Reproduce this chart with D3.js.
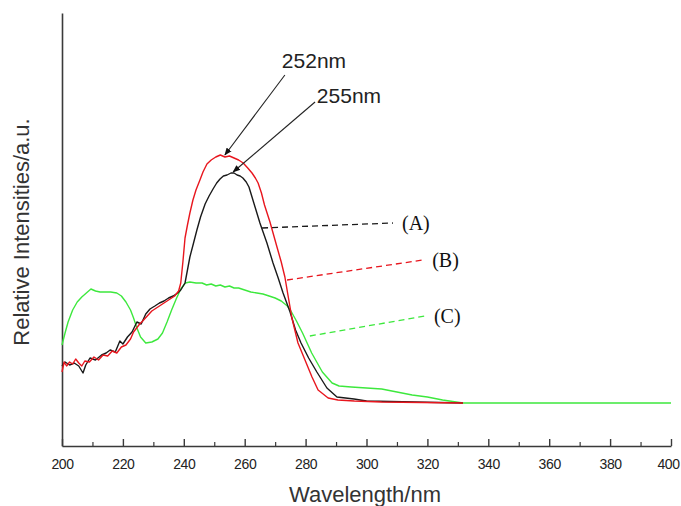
<!DOCTYPE html>
<html><head><meta charset="utf-8">
<script src="https://cdn.jsdelivr.net/npm/d3@7"></script>
<style>body{margin:0;background:#fff}svg{display:block}</style>
</head><body><svg id="c" width="681" height="506"></svg>
<script>
// ---- data (wavelength nm, relative intensity a.u.) ----
const xTicks = [200,220,240,260,280,300,320,340,360,380,400];
const xMinorTicks = [210,230,250,270,290,310,330,350,370,390];

const nmC = [200,201,202,203.5,205,206.5,208,209.5,211,212.5,214,216,218,219.5,221,222.5,223.5,224.6,225.8,227.5,229.5,231.5,233,234.5,236,237.5,239,240.5,242,244,246,247.5,249,250.5,252,253.5,255,256.5,258,260,262,264,266,268,270,272,274,275,277,279,282,285.5,288.7,291,295,300,305,310,315,320,325,331.7,340,400];
const valC = [101,113,124,136,144,149,153,157,155,154,154,154,153,150,144,136,128,118,109,103,104,107,113,124,136,147,157,163,164,163,163,161,162,160,161,159,160,158,158,156,154,153,152,150,148,145,140,136,125,113,93,74,63,60,59,58,57,54,51,49,46,43,43,43];

const nmB = [200,200.7,201.5,202.5,203.5,204.5,205.5,206.5,207.5,209,210.5,212,213.5,215,216.5,218,219.5,221,222.5,223.5,224.5,225.5,226.5,228,229.5,231,232.5,234,235.5,237,238.3,239,239.7,240.4,241.2,242,243,244,245.3,246.3,247.6,249,250.5,252,253.5,255,256.5,258,259.5,261,262.4,263.5,264.4,265.5,266.5,268.3,270.6,272,273.2,274.2,275.5,277.5,279.8,282.1,284.1,287.4,290.6,296,305,331.7];
const valB = [74,84,80,84,82,87,83,80,85,84,89,86,91,90,95,93,99,101,107,114,118,122,125,130,135,138,141,144,147,150,155,163,184,208,221,233,246,256,266,274,282,286,289,291,289,290,288,286,283,278,273,268,263,253,241,224,199,184,169,151,128,103,86,69,56,48,46,45,44,43];

const nmA = [200,201,202.5,204,205.5,206.9,207.8,209.2,211,213,214.5,215.8,217.5,219,220,221.5,223,224.6,226,227.5,228.9,230.5,232,233.5,235,236.5,238,239,240.4,241.2,242,243.2,244.3,245.5,247,248.3,249.6,250.8,251.9,253,254.2,255.5,256.5,257.5,258.5,259.4,260.5,261.4,262.4,263.5,265,267.3,269.3,271,272.6,274.9,276.7,278.5,281,283.7,287,290.3,295.9,300,331.7];
const valA = [80,84,81,83,80,73,81,88,86,91,93,96,94,105,102,109,114,124,122,132,137,140,143,145,148,150,153,156,163,176,189,203,216,229,242,250,257,263,267,270,271,273,273,271,270,268,264,259,249,238,223,203,183,168,153,134,116,103,88,74,58,49,47,45,43];

const seriesNames = ["(A)","(B)","(C)"];
const seriesColors = ["#1a1a1a","#e8161e","#3de83d"];
// leader lines for labels: [nm0,val0,nm1,val1]
const leaders = [[265.7,218,308.7,223],[273.9,166,318.6,186],[281.4,110,319.2,130]];
// peak annotations: label, text position (nm,val), arrow start (nm,val), tip (nm,val)
const peakLabels = ["252nm","255nm"];
const peakText = [[272.2,378],[283.7,343]];
const peakStart = [[273.2,371],[283.1,344]];
const peakTip = [[253.5,291],[256.2,274]];

// ---- chart ----
const svg = d3.select("#c");
const x = d3.scaleLinear().domain([200,400]).range([62,671]);
const y = d3.scaleLinear().domain([0,433]).range([446,13]);
const axisColor = "#3a3a3a";

// x axis
const gx = svg.append("g").attr("transform","translate(0,446)")
  .call(d3.axisBottom(x).tickValues(xTicks).tickSizeInner(-7).tickSizeOuter(0).tickPadding(13).tickFormat(d3.format("d")));
gx.select(".domain").attr("stroke",axisColor).attr("stroke-width",1.6);
gx.selectAll(".tick line").attr("stroke",axisColor).attr("stroke-width",1.4);
gx.selectAll(".tick text").attr("font-family","Arial, 'Liberation Sans', sans-serif").attr("font-size",14)
  .attr("letter-spacing","-0.4px").attr("fill","#222")
  .filter(d=>d===400).attr("dx",-3);
const gm = svg.append("g").attr("transform","translate(0,446)")
  .call(d3.axisBottom(x).tickValues(xMinorTicks).tickSizeInner(-4).tickSizeOuter(0).tickFormat(""));
gm.select(".domain").remove();
gm.selectAll(".tick line").attr("stroke",axisColor).attr("stroke-width",1.2);

// y axis (no ticks)
const gy = svg.append("g").attr("transform","translate(62,0)")
  .call(d3.axisLeft(y).tickValues([]).tickSizeOuter(0));
gy.select(".domain").attr("stroke",axisColor).attr("stroke-width",1.6);

// axis titles
svg.append("text").attr("x",365).attr("y",502).attr("text-anchor","middle")
  .attr("font-family","Arial, 'Liberation Sans', sans-serif").attr("font-size",22).attr("fill","#333")
  .text("Wavelength/nm");
svg.append("text").attr("transform","translate(29,232) rotate(-90)").attr("text-anchor","middle")
  .attr("font-family","Arial, 'Liberation Sans', sans-serif").attr("font-size",22).attr("fill","#333")
  .text("Relative Intensities/a.u.");

// curves
const line = d3.line().x(d=>x(d[0])).y(d=>y(d[1]));
const series = [
  {nm:nmC,val:valC,color:seriesColors[2]},
  {nm:nmA,val:valA,color:seriesColors[0]},
  {nm:nmB,val:valB,color:seriesColors[1]}
];
series.forEach(s=>{
  svg.append("path").datum(s.nm.map((n,i)=>[n,s.val[i]]))
    .attr("d",line).attr("fill","none").attr("stroke",s.color).attr("stroke-width",1.4)
    .attr("stroke-linejoin","round");
});

// leader lines and series labels
leaders.forEach((l,i)=>{
  svg.append("line").attr("x1",x(l[0])).attr("y1",y(l[1])).attr("x2",x(l[2])).attr("y2",y(l[3]))
    .attr("stroke",seriesColors[i]).attr("stroke-width",1.3).attr("stroke-dasharray","6,4");
  svg.append("text").attr("x",x(l[2])+9).attr("y",y(l[3])).attr("dy","0.35em")
    .attr("font-family","'Liberation Serif','Times New Roman',serif").attr("font-size",20).attr("fill","#111")
    .text(seriesNames[i]);
});

// peak annotations
svg.append("defs").append("marker").attr("id","ah").attr("viewBox","0 0 10 10")
  .attr("refX",9).attr("refY",5).attr("markerWidth",7).attr("markerHeight",7).attr("orient","auto")
  .append("path").attr("d","M0,1 L10,5 L0,9 Z").attr("fill","#111");
peakLabels.forEach((t,i)=>{
  svg.append("line").attr("x1",x(peakStart[i][0])).attr("y1",y(peakStart[i][1]))
    .attr("x2",x(peakTip[i][0])).attr("y2",y(peakTip[i][1]))
    .attr("stroke","#222").attr("stroke-width",1.1).attr("marker-end","url(#ah)");
  svg.append("text").attr("x",x(peakText[i][0])).attr("y",y(peakText[i][1]))
    .attr("font-family","Arial, 'Liberation Sans', sans-serif").attr("font-size",21).attr("fill","#222")
    .text(t);
});
</script></body></html>
